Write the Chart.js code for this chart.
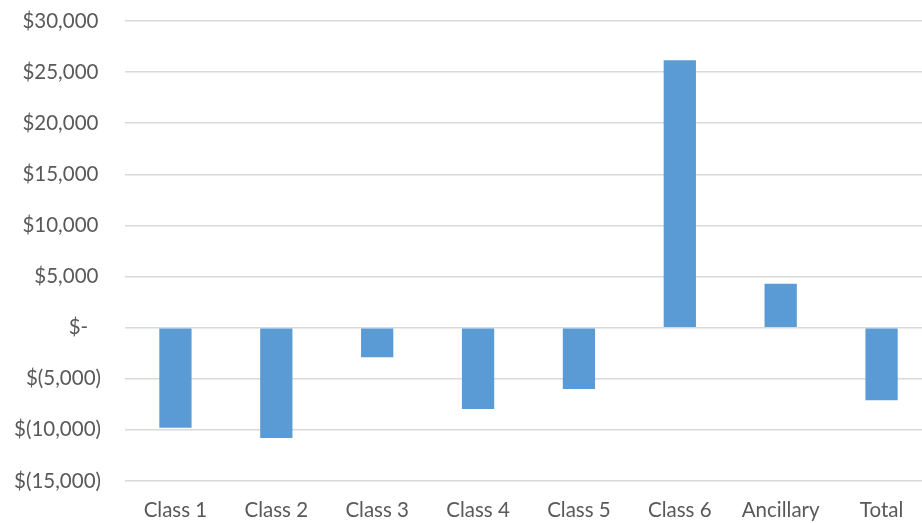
<!DOCTYPE html>
<html lang="en">
<head>
    <meta charset="UTF-8">
    <title>Variance by Class</title>
    <script src="https://cdn.jsdelivr.net/npm/chart.js"></script>
    <style>
        html, body { margin: 0; padding: 0; background: #fff; overflow: hidden; }
        #wrap { width: 932px; height: 523px; }
    </style>
</head>
<body>
    <div id="wrap">
        <canvas id="varianceChart" width="932" height="523"></canvas>
    </div>

    <script>
        const categories = ['Class 1', 'Class 2', 'Class 3', 'Class 4', 'Class 5', 'Class 6', 'Ancillary', 'Total'];
        const variance = [-9800, -10800, -2900, -7950, -6000, 26150, 4300, -7100];
        const yMin = -15000;
        const yMax = 30000;
        const yStep = 5000;

        // accounting style: $30,000  $-  $(5,000)
        function accounting(v) {
            if (v === 0) return '$-\u2002\u2009';
            const s = Math.abs(v).toLocaleString('en-US');
            return v < 0 ? '$(' + s + ')' : '$' + s + '\u2009';
        }

        const textColor = '#595959';
        const fontSpec = { family: 'Lato, "Open Sans", sans-serif', size: 20.5 };

        new Chart(document.getElementById('varianceChart').getContext('2d'), {
            type: 'bar',
            data: {
                labels: categories,
                datasets: [{
                    data: variance,
                    backgroundColor: '#5b9bd5',
                    borderWidth: 0,
                    barPercentage: 0.32,
                    categoryPercentage: 1.0
                }]
            },
            options: {
                responsive: false,
                animation: false,
                layout: { padding: { top: 21, right: 0, bottom: 0, left: 0 } },
                plugins: {
                    legend: { display: false },
                    tooltip: { enabled: false }
                },
                scales: {
                    x: {
                        grid: { display: false },
                        border: { display: false },
                        ticks: { color: textColor, font: fontSpec, padding: 9, maxRotation: 0 },
                        afterFit(scale) { scale.height = 42; }
                    },
                    y: {
                        min: yMin,
                        max: yMax,
                        // invisible tick marks keep the labels clear of the plot
                        grid: { color: '#d9d9d9', lineWidth: 1.5, tickLength: 24, tickColor: 'rgba(0,0,0,0)' },
                        border: { display: false },
                        ticks: {
                            stepSize: yStep,
                            color: textColor,
                            font: fontSpec,
                            padding: 0,
                            callback: v => accounting(v)
                        },
                        afterFit(scale) { scale.width = 125; }
                    }
                }
            }
        });
    </script>
</body>
</html>
